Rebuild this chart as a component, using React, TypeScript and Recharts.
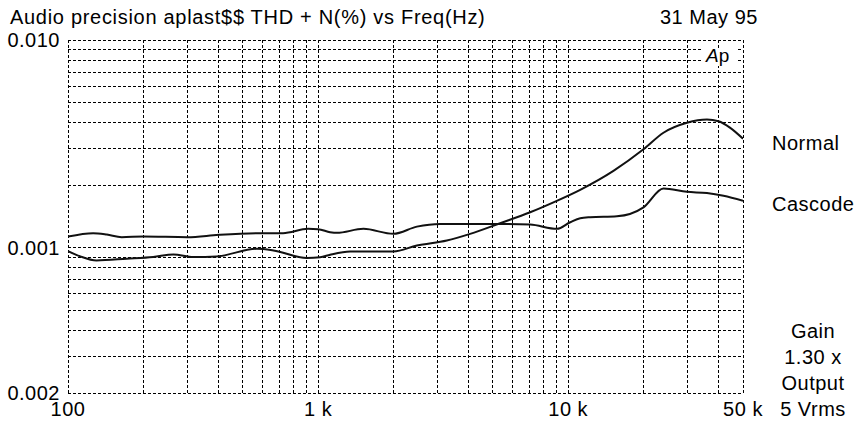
import { LineChart, Line, XAxis, YAxis, CartesianGrid } from "recharts";

// THD+N (%), frequency in Hz
const normalFreq = [100, 112, 130, 172, 219, 264, 317, 393, 568, 663, 901, 1019, 1117, 1343, 2000, 2483, 3271, 4055, 5346, 7047, 8730, 11170, 15170, 20000, 24040, 29840, 35870, 39900, 44460, 50000];
const normalThd = [0.000964, 0.000909, 0.000869, 0.000886, 0.000903, 0.000929, 0.000903, 0.000909, 0.000989, 0.000971, 0.000893, 0.0009, 0.000926, 0.00096, 0.00096, 0.001026, 0.001084, 0.001167, 0.001313, 0.001482, 0.001654, 0.0019, 0.002344, 0.002977, 0.003577, 0.003994, 0.004142, 0.004066, 0.003779, 0.003349];

const cascodeFreq = [100, 126, 143, 164, 200, 300, 400, 590, 724, 912, 1000, 1117, 1188, 1518, 2000, 2483, 3076, 4055, 5346, 7047, 9016, 10190, 11170, 12250, 15660, 20000, 24040, 29840, 35870, 41790, 50000];
const cascodeThd = [0.001132, 0.001176, 0.001158, 0.001125, 0.001132, 0.001125, 0.001154, 0.001176, 0.001176, 0.001233, 0.001229, 0.001189, 0.00118, 0.001233, 0.001167, 0.001264, 0.001303, 0.001303, 0.001303, 0.001293, 0.001233, 0.001327, 0.001387, 0.001403, 0.001418, 0.001566, 0.00193, 0.001859, 0.001833, 0.001779, 0.001684];

// grid lines (log decades)
const freqGrid = [100, 200, 300, 400, 500, 600, 700, 800, 900, 1000, 2000, 3000, 4000, 5000, 6000, 7000, 8000, 9000, 10000, 20000, 30000, 40000, 50000];
const thdGrid = [0.0002, 0.0003, 0.0004, 0.0005, 0.0006, 0.0007, 0.0008, 0.0009, 0.001, 0.002, 0.003, 0.004, 0.005, 0.006, 0.007, 0.008, 0.009, 0.01];

const freqLabels = new Map<number, string>([[100, "100"], [1000, "1 k"], [10000, "10 k"], [50000, "50 k"]]);
const thdLabels = new Map<number, string>([[0.01, "0.010"], [0.001, "0.001"], [0.0002, "0.002"]]);

const sideNotes = ["Gain", "1.30 x", "Output", "5 Vrms"];

const FONT = '"Liberation Sans", Arial, Helvetica, sans-serif';

const normalData = normalFreq.map((f, i) => ({ f, v: normalThd[i] }));
const cascodeData = cascodeFreq.map((f, i) => ({ f, v: cascodeThd[i] }));

const tickStyle = { fill: "#000", fontSize: 20, fontFamily: FONT, letterSpacing: 0.5 };

export default function App() {
  return (
    <div
      style={{
        position: "absolute",
        left: 0,
        top: 0,
        width: 857,
        height: 424,
        background: "#fff",
        fontFamily: FONT,
      }}
    >
      <style>{".recharts-cartesian-grid line { shape-rendering: crispEdges; }"}</style>
      <LineChart width={857} height={424} margin={{ top: 40, right: 114, bottom: 0, left: 0 }}>
        <CartesianGrid stroke="#000" strokeDasharray="3 2" strokeWidth={1} />
        <XAxis
          dataKey="f"
          type="number"
          scale="log"
          domain={[100, 50000]}
          allowDataOverflow
          ticks={freqGrid}
          interval={0}
          height={31}
          axisLine={false}
          tickLine={false}
          tickMargin={3}
          tick={tickStyle}
          tickFormatter={(v: number) => freqLabels.get(v) ?? ""}
        />
        <YAxis
          type="number"
          scale="log"
          domain={[0.0002, 0.01]}
          allowDataOverflow
          ticks={thdGrid}
          interval={0}
          width={68}
          axisLine={false}
          tickLine={false}
          tick={tickStyle}
          tickFormatter={(v: number) => thdLabels.get(v) ?? ""}
        />
        <Line
          data={cascodeData}
          dataKey="v"
          type="monotone"
          stroke="#111"
          strokeWidth={2}
          dot={false}
          isAnimationActive={false}
        />
        <Line
          data={normalData}
          dataKey="v"
          type="monotone"
          stroke="#111"
          strokeWidth={2}
          dot={false}
          isAnimationActive={false}
        />
      </LineChart>
      <svg
        width={857}
        height={424}
        style={{ position: "absolute", left: 0, top: 0, pointerEvents: "none" }}
        fontFamily={FONT}
        fontSize={20}
        fill="#000"
      >
        <text x={10} y={23.5} letterSpacing={0.7}>
          Audio precision aplast$$ THD + N(%) vs Freq(Hz)
        </text>
        <text x={660} y={24} letterSpacing={0.5}>
          31 May 95
        </text>
        <rect x={703} y={49} width={34} height={17} fill="#fff" />
        <text x={706} y={61.5} fontSize={19}>
          <tspan fontStyle="italic">A</tspan>p
        </text>
        <text x={772} y={150} letterSpacing={0.5}>
          Normal
        </text>
        <text x={772} y={210.5} letterSpacing={0.5}>
          Cascode
        </text>
        {sideNotes.map((s, i) => (
          <text key={s} x={813} y={338 + i * 26} textAnchor="middle" letterSpacing={0.5}>
            {s}
          </text>
        ))}
      </svg>
    </div>
  );
}
